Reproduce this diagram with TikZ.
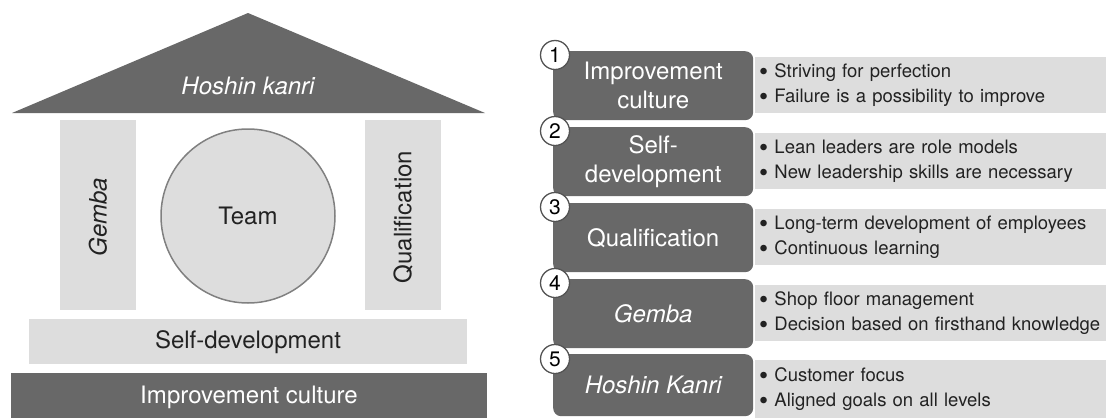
\documentclass[tikz,border=0pt]{standalone}
\usepackage{fontspec}
\setmainfont{TeX Gyre Heros}
\newcommand{\itemdot}{{\fontsize{26}{25}\selectfont\raisebox{-3pt}{\textbullet}}\ }
\definecolor{darkfill}{RGB}{104,104,104}
\definecolor{lightfill}{RGB}{221,221,221}
\definecolor{ringline}{RGB}{128,128,128}
\definecolor{bodytext}{RGB}{34,34,34}
\tikzset{
  bigfont/.style={font=\fontsize{24}{29}\selectfont},
  darkpart/.style={fill=darkfill, draw=none},
  lightpart/.style={fill=lightfill, draw=none},
  titlebox/.style={darkpart, rounded corners=8pt, text=white, bigfont, align=center,
    minimum width=200pt, inner sep=0pt, anchor=north west},
  bulletbox/.style={lightpart, text=bodytext, font=\fontsize{18.5}{25}\selectfont,
    align=left, text width=343pt, inner xsep=4pt, inner ysep=0pt, anchor=north west},
  numcircle/.style={circle, draw=darkfill!80!black, line width=1.3pt, fill=white,
    minimum size=29pt, inner sep=0pt, font=\fontsize{21}{21}\selectfont, text=black},
}
\begin{document}
\begin{tikzpicture}[x=1pt,y=-1pt]
\useasboundingbox (0,0) rectangle (1106,418);

% ---- the house ----
\fill[darkfill] (12,113) -- (248,13) -- (485,113) -- cycle;
\node[text=white, bigfont] (roof) at (248,86) {\itshape Hoshin kanri};

\fill[lightpart] (60,120) rectangle (136,310);
\node[rotate=90, bigfont, text=bodytext] (gemba) at (98,217) {\itshape Gemba};

\fill[lightpart] (365,120) rectangle (441,310);
\node[rotate=90, bigfont, text=bodytext] (qual) at (403,217) {Qualification};

\node[circle, fill=lightfill, draw=ringline, line width=1.5pt, minimum size=174pt,
  inner sep=0pt, bigfont, text=bodytext] (team) at (248,216) {Team};

\fill[lightpart] (29,319) rectangle (467,364);
\node[bigfont, text=bodytext] (selfdev) at (248,342) {Self-development};

\fill[darkpart] (11,373) rectangle (487,418);
\node[bigfont, text=white] (impcult) at (249,397) {Improvement culture};

% ---- the five principles ----
\node[titlebox, minimum height=69pt] (t1) at (553,51) {Improvement\\culture};
\node[bulletbox, minimum height=56pt] (b1) at (755,57)
  {\itemdot Striving for perfection\\\itemdot Failure is a possibility to improve};
\node[numcircle] (n1) at (555,55) {1};

\node[titlebox, minimum height=69pt] (t2) at (553,127) {Self-\\development};
\node[bulletbox, minimum height=56pt] (b2) at (755,133)
  {\itemdot Lean leaders are role models\\\itemdot New leadership skills are necessary};
\node[numcircle] (n2) at (555,131) {2};

\node[titlebox, minimum height=69pt] (t3) at (553,203) {Qualification};
\node[bulletbox, minimum height=56pt] (b3) at (755,209)
  {\itemdot Long-term development of employees\\\itemdot Continuous learning};
\node[numcircle] (n3) at (555,207) {3};

\node[titlebox, minimum height=69pt] (t4) at (553,279) {\itshape Gemba};
\node[bulletbox, minimum height=56pt] (b4) at (755,285)
  {\itemdot Shop floor management\\\itemdot Decision based on firsthand knowledge};
\node[numcircle] (n4) at (555,283) {4};

\node[titlebox, minimum height=62pt] (t5) at (553,354) {\itshape Hoshin Kanri};
\node[bulletbox, minimum height=58pt] (b5) at (755,360)
  {\itemdot Customer focus\\\itemdot Aligned goals on all levels};
\node[numcircle] (n5) at (555,359) {5};
\end{tikzpicture}
\end{document}
